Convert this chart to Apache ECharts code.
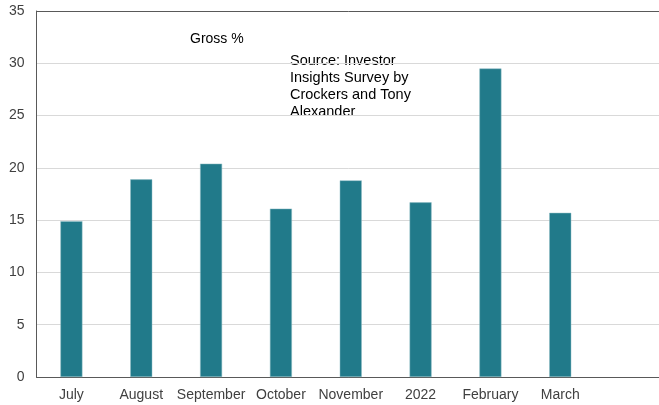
<!DOCTYPE html>
<html>
<head>
<meta charset="utf-8">
<script src="https://cdn.jsdelivr.net/npm/echarts@6/dist/echarts.min.js"></script>
<style>
html, body { margin: 0; padding: 0; background: #ffffff; overflow: hidden; }
#chart { width: 659px; height: 405px; }
</style>
</head>
<body>
<div id="chart"></div>
<script>
// months of the survey, last slot left empty like the original
var categories = ['July', 'August', 'September', 'October', 'November', '2022', 'February', 'March', ''];
var grossYield = [14.9, 18.9, 20.4, 16.1, 18.8, 16.7, 29.5, 15.7, null];
var yTicks = [0, 5, 10, 15, 20, 25, 30, 35];

var chart = echarts.init(document.getElementById('chart'));
var font = 'Liberation Sans, Arial, sans-serif';

// top gridline is drawn dark like a frame, the rest light grey
var gridColors = yTicks.map(function (t, i) {
    return i === yTicks.length - 1 ? '#595959' : '#d9d9d9';
});

var option = {
    animation: false,
    textStyle: { fontFamily: font },
    grid: { left: 36.5, right: -6, top: 11, bottom: 28, containLabel: false, outerBoundsMode: 'none' },
    xAxis: {
        type: 'category',
        data: categories,
        axisLine: { lineStyle: { color: '#595959', width: 1 } },
        axisTick: { show: false },
        axisLabel: { interval: 0, color: '#404040', fontSize: 14, margin: 11, fontFamily: font }
    },
    yAxis: {
        type: 'value',
        min: yTicks[0],
        max: yTicks[yTicks.length - 1],
        interval: 5,
        axisLine: { show: true, lineStyle: { color: '#595959', width: 1 } },
        axisTick: { show: false },
        splitLine: { lineStyle: { color: gridColors, width: 1 } },
        axisLabel: { color: '#404040', fontSize: 14, margin: 12, fontFamily: font }
    },
    graphic: [
        {
            type: 'text', left: 190, top: 32,
            style: { text: 'Gross %', fill: '#000', font: '14px ' + font }
        },
        {
            type: 'text', left: 290, top: 52,
            style: {
                text: 'Source: Investor\nInsights Survey by\nCrockers and Tony\nAlexander',
                fill: '#000', font: '14.5px ' + font, lineHeight: 17
            }
        }
    ],
    series: [{
        type: 'bar',
        data: grossYield,
        barWidth: 22,
        itemStyle: { color: '#217a8a', borderColor: '#8fbcc4', borderWidth: 0.5 }
    }]
};
chart.setOption(option);
</script>
</body>
</html>
